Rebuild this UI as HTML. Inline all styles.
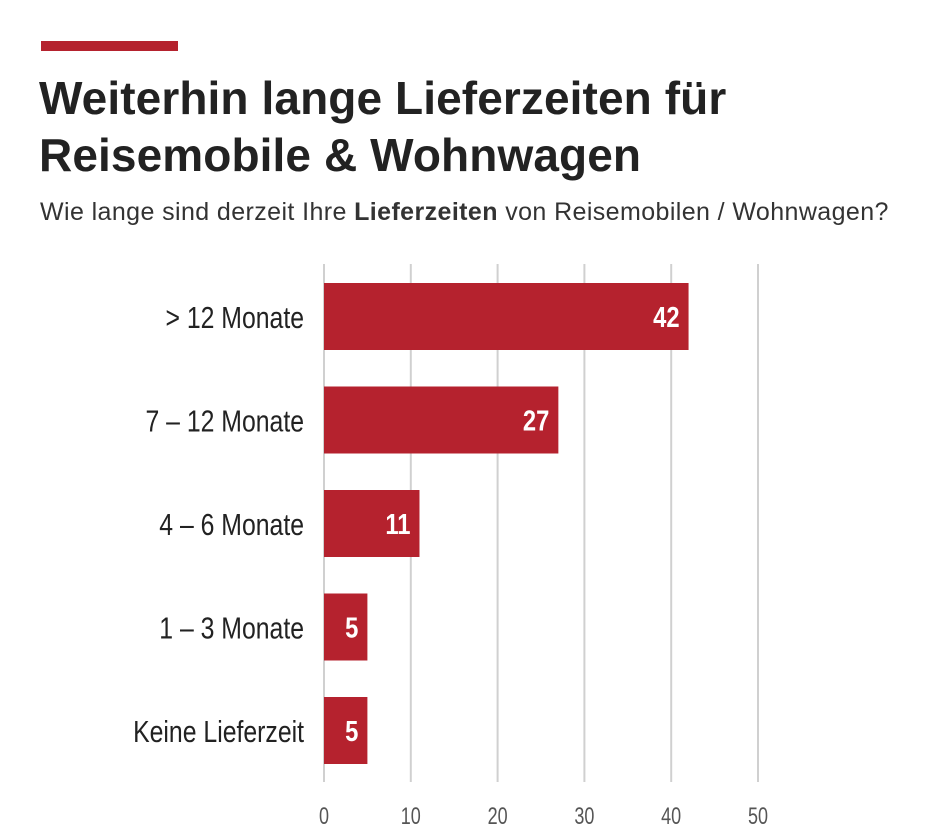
<!DOCTYPE html>
<html><head><meta charset="utf-8"><style>
body{margin:0;width:941px;height:840px;background:#fff;overflow:hidden;font-family:"Liberation Sans",sans-serif}
</style></head><body>
<div style="position:absolute;left:41px;top:41px;width:137px;height:10px;background:#b5222e"></div>
<div style="position:absolute;left:39px;top:70px;font-size:46px;font-weight:bold;line-height:57px;color:#222;letter-spacing:0.1px;white-space:nowrap">Weiterhin lange Lieferzeiten für<br>Reisemobile &amp; Wohnwagen</div>
<div style="position:absolute;left:40px;top:198px;font-size:25px;color:#333;white-space:nowrap;letter-spacing:0.4px">Wie lange sind derzeit Ihre <b>Lieferzeiten</b> von Reisemobilen / Wohnwagen?</div>
<svg width="941" height="840" style="position:absolute;left:0;top:0">
<g id="g"></g></svg>
<script>
const categories=["> 12 Monate","7 – 12 Monate","4 – 6 Monate","1 – 3 Monate","Keine Lieferzeit"];
const values=[42,27,11,5,5];
const ticks=[0,10,20,30,40,50];
const g=document.getElementById('g');
const ns='http://www.w3.org/2000/svg';
const x=v=>324+v*8.68;
const yTop=i=>283+i*103.5;
function mk(t,a){const e=document.createElementNS(ns,t);for(const k in a)e.setAttribute(k,a[k]);g.appendChild(e);return e;}
ticks.forEach(t=>{
 const l=mk('line',{x1:x(t),x2:x(t),y1:264,y2:782,stroke:'#d0d0d0','stroke-width':2});
 
 
 const tx=mk('text',{x:x(t),y:824,'text-anchor':'middle','font-size':24,fill:'#555',transform:`translate(${x(t)*0.25},0) scale(0.75,1)`});
 tx.textContent=t;
 
 
});
categories.forEach((c,i)=>{
 const y=yTop(i);
 const r=mk('rect',{x:x(0),y:y,width:x(values[i])-x(0),height:67,fill:'#b5222e'});
 
 
 const v=mk('text',{x:x(values[i])-9,y:y+44,'text-anchor':'end','font-size':29,'font-weight':'bold',fill:'#fff',transform:`translate(${(x(values[i])-9)*0.18},0) scale(0.82,1)`});
 v.textContent=values[i];
 
 
 const lb=mk('text',{x:304,y:y+45,'text-anchor':'end','font-size':31,fill:'#222',transform:`translate(${304*0.2},0) scale(0.8,1)`});
 lb.textContent=c;
 
 
});
</script>
</body></html>
